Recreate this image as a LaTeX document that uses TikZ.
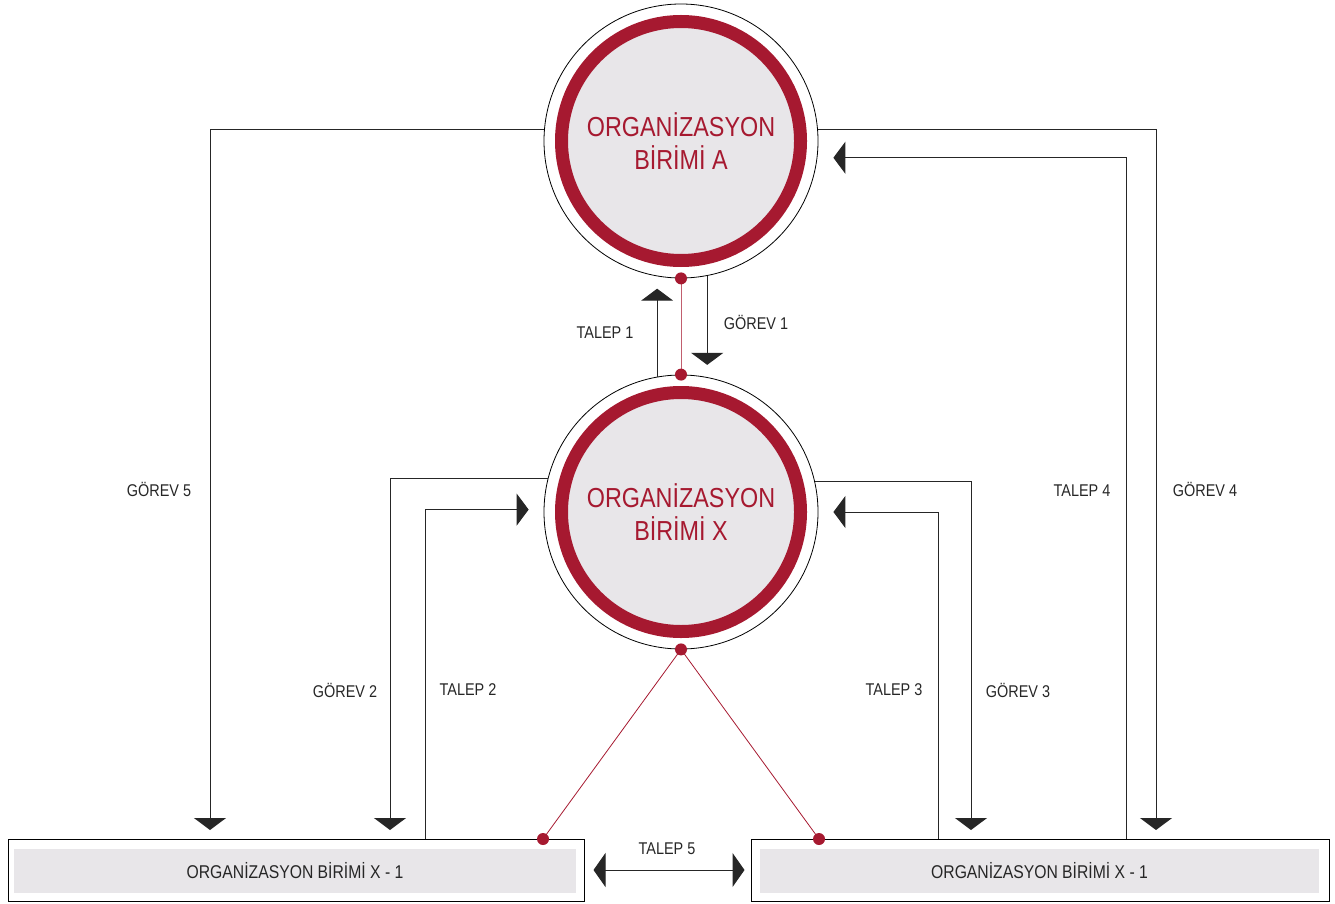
\documentclass[tikz,border=0pt]{standalone}
\usepackage{fontspec}
\setmainfont{Liberation Sans}[FakeStretch=0.85]
\usepackage{xcolor}
\usetikzlibrary{positioning,arrows.meta}
\definecolor{unitred}{RGB}{166,25,48}
\definecolor{unitgray}{RGB}{232,230,233}

\begin{document}
\begin{tikzpicture}[x=1pt,y=-1pt,
  halo/.style={circle,draw=black,line width=0.8pt,minimum size=274pt,inner sep=0pt},
  ring/.style={circle,draw=unitred,line width=13pt,fill=unitgray,minimum size=239pt,inner sep=0pt,text=unitred,align=center,font=\fontsize{27.5}{33}\selectfont},
  flow/.style={line width=1pt,black!85,-{Triangle[width=32pt,length=12pt]}},
  lbl/.style={font=\fontsize{17}{20}\selectfont,text=black!85},
  unitbox/.style={draw=black,line width=1pt,minimum height=62pt,inner sep=0pt},
  band/.style={fill=unitgray,minimum height=44pt,inner sep=0pt,font=\fontsize{18.5}{22}\selectfont,text=black!85},
  link/.style={unitred,line width=0.8pt},
  joint/.style={circle,fill=unitred,inner sep=0pt,minimum size=12pt}]
\useasboundingbox (0,0) rectangle (1335,904);

\node[halo] (A) at (681,141) {};
\node[ring] (A in) at (A.center) {ORGANİZASYON\\BİRİMİ A};
\node[halo] (X) at (681,512) {};
\node[ring] (X in) at (X.center) {ORGANİZASYON\\BİRİMİ X};

\node[unitbox,minimum width=576pt] (L) at (296,870) {};
\node[band,minimum width=562pt] (L band) at (295,871) {ORGANİZASYON BİRİMİ X - 1};
\node[unitbox,minimum width=578pt] (R) at (1040,870) {};
\node[band,minimum width=559pt] (R band) at (1039.5,871) {ORGANİZASYON BİRİMİ X - 1};

\coordinate (g5) at (210,839);
\coordinate (g2) at (390,839);
\coordinate (t2) at (425,839);
\coordinate (dL) at (543,839);
\coordinate (dR) at (819,839);
\coordinate (t3) at (938,839);
\coordinate (g3) at (971,839);
\coordinate (t4) at (1126,839);
\coordinate (g4) at (1156,839);

\draw[flow,shorten >=9pt] (A.175) -| (g5);
\draw[flow,shorten >=9pt] (A.5) -| (g4);
\draw[flow,shorten >=16pt] (t4) |- (A.-7.55);
\draw[flow,shorten >=9pt] (X.166.1) -| (g2);
\draw[flow,shorten >=9pt] (X.13.9) -| (g3);
\draw[flow,shorten >=15pt] (t2) |- (X.179.2);
\draw[flow,shorten >=15pt] (t3) |- (X.0.8);
\draw[flow] (X.100.9) -- ++(0,-88);
\draw[flow] (A.-79.5) -- ++(0,89);
\draw[line width=1pt,black!85,{Triangle[width=34pt,length=12pt]}-{Triangle[width=34pt,length=12pt]},shorten <=9pt,shorten >=6pt] (L.east) -- (R.west);

\draw[link,unitred!70] (A.south) -- (X.north);
\draw[link] (X.south) -- (dL);
\draw[link] (X.south) -- (dR);
\foreach \p [count=\i] in {A.south,X.north,X.south,dL,dR}
\node[joint] (dot\i) at (\p) {};

\node[lbl] (talep1) at (605,333) {TALEP 1};
\node[lbl] (gorev1) at (756,322) {GÖREV 1};
\node[lbl] (gorev5) at (159,489) {GÖREV 5};
\node[lbl] (talep4) at (1082,491) {TALEP 4};
\node[lbl] (gorev4) at (1205,489) {GÖREV 4};
\node[lbl] (gorev2) at (345,690) {GÖREV 2};
\node[lbl] (talep2) at (468,690) {TALEP 2};
\node[lbl] (talep3) at (894,690) {TALEP 3};
\node[lbl] (gorev3) at (1018,690) {GÖREV 3};
\node[lbl] (talep5) at (667,849) {TALEP 5};
\end{tikzpicture}
\end{document}
